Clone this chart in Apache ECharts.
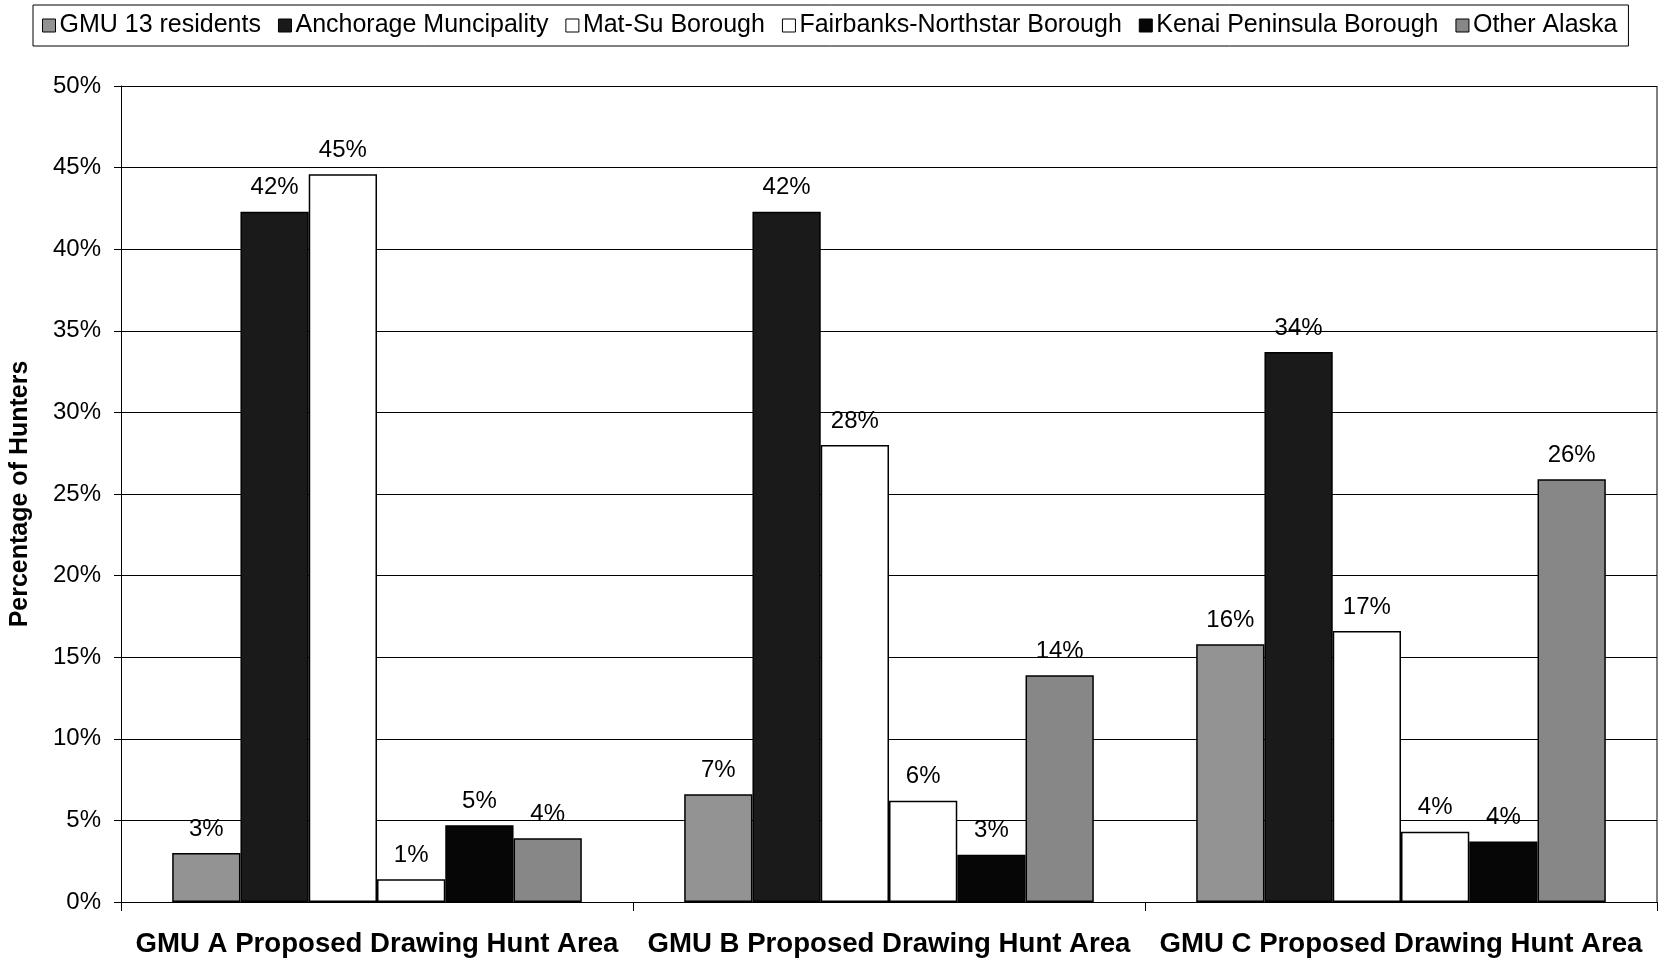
<!DOCTYPE html>
<html>
<head>
<meta charset="utf-8">
<script src="https://cdn.jsdelivr.net/npm/echarts@6/dist/echarts.min.js"></script>
<style>
  html, body { margin: 0; padding: 0; background: #fff; }
  #chart { width: 1660px; height: 961px; }
</style>
</head>
<body>
<div id="chart"></div>
<script>
// Hunt areas along the x axis
const categories = [
  'GMU A Proposed Drawing Hunt Area',
  'GMU B Proposed Drawing Hunt Area',
  'GMU C Proposed Drawing Hunt Area'
];

// Share of hunters (%) by residence, per hunt area
const gmu13Residents   = [3.0, 6.6, 15.8];
const anchorage        = [42.3, 42.3, 33.7];
const matSu            = [44.6, 28.0, 16.6];
const fairbanks        = [1.4, 6.2, 4.3];
const kenai            = [4.7, 2.9, 3.7];
const otherAlaska      = [3.9, 13.9, 25.9];

const seriesNames = [
  'GMU 13 residents',
  'Anchorage Muncipality',
  'Mat-Su Borough',
  'Fairbanks-Northstar Borough',
  'Kenai Peninsula Borough',
  'Other Alaska'
];
const seriesData = [gmu13Residents, anchorage, matSu, fairbanks, kenai, otherAlaska];
const seriesFill = ['#939393', '#1a1a1a', '#ffffff', '#ffffff', '#060606', '#878787'];

const FONT = 'Liberation Sans, Arial, sans-serif';

const chart = echarts.init(document.getElementById('chart'), null, { renderer: 'canvas' });

const series = seriesNames.map((name, i) => ({
  name: name,
  type: 'bar',
  data: seriesData[i],
  barGap: '0%',
  barCategoryGap: '20%',
  itemStyle: { color: seriesFill[i], borderColor: '#000', borderWidth: 1.5 },
  label: {
    show: true,
    position: 'top',
    distance: 12,
    fontFamily: FONT,
    fontSize: 24,
    color: '#000',
    formatter: p => Math.round(p.value) + '%'
  }
}));

chart.setOption({
  animation: false,
  backgroundColor: '#fff',
  textStyle: { fontFamily: FONT },
  legend: {
    data: seriesNames,
    left: 33,
    top: 5,
    orient: 'horizontal',
    itemWidth: 13,
    itemHeight: 13,
    itemGap: 17,
    padding: [8, 11, 8, 9],
    borderColor: '#000',
    borderWidth: 1,
    icon: 'rect',
    itemStyle: { borderColor: '#000', borderWidth: 1 },
    textStyle: { fontFamily: FONT, fontSize: 25, color: '#000', padding: [0, 0, 0, -1] }
  },
  grid: { left: 117, right: 3, top: 86, bottom: 59, containLabel: false },
  xAxis: {
    type: 'category',
    data: categories,
    axisLine: { show: true, lineStyle: { color: '#000', width: 1 } },
    axisTick: { show: true, length: 9, lineStyle: { color: '#000' } },
    axisLabel: {
      interval: 0,
      fontFamily: FONT, fontSize: 27.6, fontWeight: 'bold', color: '#000', margin: 28
    }
  },
  yAxis: {
    type: 'value',
    min: 0,
    max: 50,
    interval: 5,
    name: 'Percentage of Hunters',
    nameLocation: 'middle',
    nameGap: 88,
    nameTextStyle: { fontFamily: FONT, fontSize: 25, fontWeight: 'bold', color: '#000' },
    axisLine: { show: true, lineStyle: { color: '#000', width: 1 } },
    axisTick: { show: true, length: 7, lineStyle: { color: '#000' } },
    axisLabel: { fontFamily: FONT, fontSize: 24, color: '#000', margin: 20, formatter: '{value}%' },
    splitLine: { show: true, lineStyle: { color: '#000', width: 1 } }
  },
  series: series,
  // Right border of the plot area
  graphic: [{
    type: 'line',
    shape: { x1: 1657, y1: 86, x2: 1657, y2: 902 },
    style: { stroke: '#000', lineWidth: 1 }
  }]
});
</script>
</body>
</html>
